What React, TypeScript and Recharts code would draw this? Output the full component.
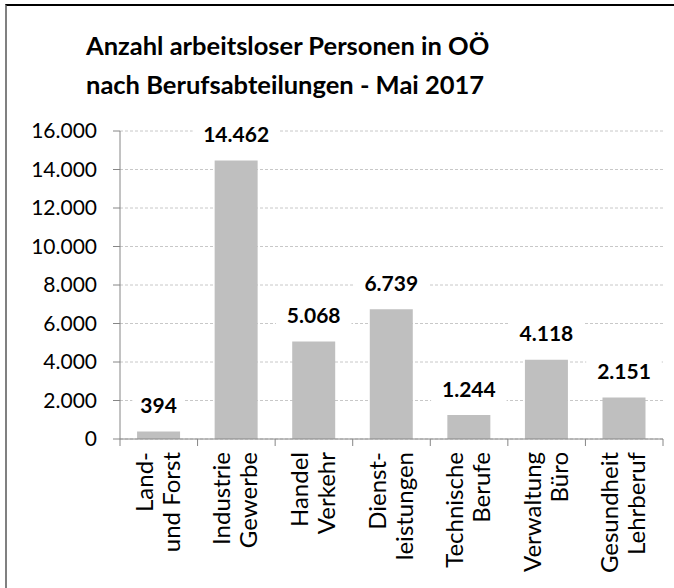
import React from 'react';
import { BarChart, Bar, XAxis, YAxis, CartesianGrid, LabelList } from 'recharts';

const categories: string[] = [
  'Land-\nund Forst',
  'Industrie\nGewerbe',
  'Handel\nVerkehr',
  'Dienst-\nleistungen',
  'Technische\nBerufe',
  'Verwaltung\nBüro',
  'Gesundheit\nLehrberuf',
];
const values: number[] = [394, 14462, 5068, 6739, 1244, 4118, 2151];
const yTicks: number[] = [0, 2000, 4000, 6000, 8000, 10000, 12000, 14000, 16000];
const titleLines: string[] = ['Anzahl arbeitsloser Personen in OÖ', 'nach Berufsabteilungen - Mai 2017'];

const data = categories.map((name, i) => ({ name, value: values[i] }));

const FONT = 'Lato, "Open Sans", sans-serif';
const AXIS = '#868686';

const fmt = (v: number) => String(v).replace(/\B(?=(\d{3})+(?!\d))/g, '.');

const CategoryTick = (props: any) => {
  const { x, y, payload, index, visibleTicksCount } = props;
  const off = payload.offset || 0;
  const lines = String(payload.value).split('\n');
  const last = index === (visibleTicksCount ?? categories.length) - 1;
  return (
    <g>
      <line x1={x - off} x2={x - off} y1={y} y2={y + 7} stroke={AXIS} strokeWidth={1} />
      {last && <line x1={x + off} x2={x + off} y1={y} y2={y + 7} stroke={AXIS} strokeWidth={1} />}
      <g transform={`translate(${x},${y})`}>
        <text transform="rotate(-90)" textAnchor="end" fontFamily={FONT} fontSize={24} fill="#000">
          <tspan x={-13} y={-6}>{lines[0]}</tspan>
          {lines[1] && <tspan x={-13} y={21}>{lines[1]}</tspan>}
        </text>
      </g>
    </g>
  );
};

const ValueLabel = (props: any) => {
  const { x, y, width, value } = props;
  const cx = x + width / 2;
  const cy = y - 26;
  const txt = fmt(value);
  const w = txt.length * 11.5 + 18;
  return (
    <g>
      <rect x={cx - w / 2} y={cy - 15} width={w} height={30} fill="#fff" />
      <text x={cx} y={cy + 7.5} textAnchor="middle" fontFamily={FONT} fontWeight={700} fontSize={21} fill="#000">
        {txt}
      </text>
    </g>
  );
};

export default function App() {
  return (
    <div style={{ position: 'absolute', left: 0, top: 0, width: 674, height: 588, background: '#fff', overflow: 'hidden' }}>
      <div style={{ position: 'absolute', left: 5, top: 4, width: 700, height: 600, borderLeft: '2px solid #808080', borderTop: '2px solid #000' }} />
      {titleLines.map((t, i) => (
        <div
          key={i}
          style={{
            position: 'absolute',
            left: 86,
            top: 30 + i * 39,
            fontFamily: FONT,
            fontWeight: 700,
            fontSize: 25.5,
            lineHeight: '30px',
            color: '#000',
            whiteSpace: 'nowrap',
          }}
        >
          {t}
        </div>
      ))}
      <div style={{ position: 'absolute', left: 0, top: 0 }}>
        <BarChart width={674} height={588} data={data} margin={{ top: 131, right: 11, bottom: 9, left: 20 }} barCategoryGap="22%">
          <CartesianGrid vertical={false} stroke="#C8C8C8" strokeDasharray="3 2" />
          <XAxis
            dataKey="name"
            interval={0}
            height={140}
            tick={<CategoryTick />}
            tickLine={false}
            tickSize={0}
            tickMargin={0}
            axisLine={{ stroke: AXIS, strokeWidth: 1 }}
          />
          <YAxis
            width={100}
            domain={[0, 16000]}
            ticks={yTicks}
            interval={0}
            tickFormatter={fmt}
            tickSize={7}
            tickMargin={16}
            tickLine={{ stroke: AXIS }}
            axisLine={{ stroke: AXIS, strokeWidth: 1 }}
            tick={{ fontFamily: FONT, fontSize: 21, fill: '#000' }}
          />
          <Bar dataKey="value" fill="#BFBFBF" isAnimationActive={false}>
            <LabelList dataKey="value" content={<ValueLabel />} />
          </Bar>
        </BarChart>
      </div>
    </div>
  );
}
